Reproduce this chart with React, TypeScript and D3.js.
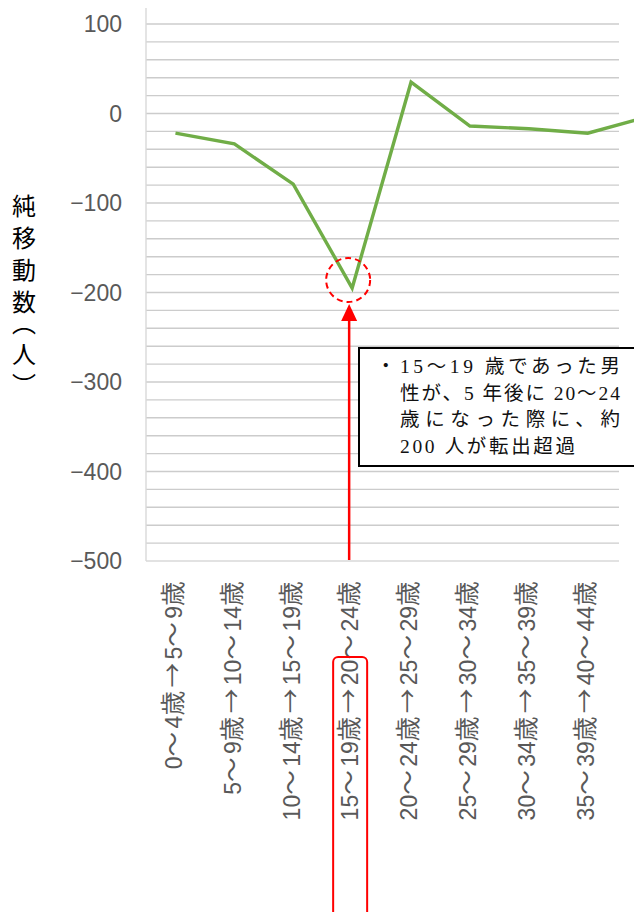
import React, { useEffect, useRef } from "react";
import * as d3 from "d3";

// 年齢階級の移動（5年後）
const categories = [
  "0～4歳→5～9歳",
  "5～9歳→10～14歳",
  "10～14歳→15～19歳",
  "15～19歳→20～24歳",
  "20～24歳→25～29歳",
  "25～29歳→30～34歳",
  "30～34歳→35～39歳",
  "35～39歳→40～44歳",
  "40～44歳→45～49歳",
];
// 純移動数（人）
const netMigration = [-22, -34, -79, -195, 35, -14, -17, -22, -4];
const yTicks = [100, 0, -100, -200, -300, -400, -500];
const yTitle = "純移動数（人）";
const noteLines = [
  "15～19 歳であった男",
  "性が、5 年後に 20～24",
  "歳になった際に、約",
  "200 人が転出超過",
];
const highlightIndex = 3;

const W = 634;
const H = 912;

const App: React.FC = () => {
  const svgRef = useRef<any>();

  useEffect(() => {
    const svg = d3.select(svgRef.current);
    svg.selectAll("*").remove();

    const left = 146;
    const gridRight = 619;
    const step = 58.9;

    const x = d3
      .scaleBand<string>()
      .domain(categories)
      .range([left, left + step * categories.length]);
    const y = d3.scaleLinear().domain([-500, 100]).range([561, 24]);
    const cx = (c: string) => (x(c) as number) + x.bandwidth() / 2;

    // gridlines every 20
    const minor = d3.range(-480, 101, 20);
    svg
      .append("g")
      .selectAll()
      .data(minor)
      .join("line")
      .attr("x1", left)
      .attr("x2", gridRight)
      .attr("y1", (d) => y(d))
      .attr("y2", (d) => y(d))
      .attr("stroke", "#cccccc")
      .attr("stroke-width", 1.4);

    // axes
    svg
      .append("line")
      .attr("x1", left)
      .attr("x2", gridRight)
      .attr("y1", y(-500))
      .attr("y2", y(-500))
      .attr("stroke", "#d9d9d9")
      .attr("stroke-width", 1.4);
    svg
      .append("line")
      .attr("x1", left)
      .attr("x2", left)
      .attr("y1", 8)
      .attr("y2", y(-500))
      .attr("stroke", "#d9d9d9")
      .attr("stroke-width", 1.4);

    // y tick labels
    svg
      .append("g")
      .attr("font-family", "'Liberation Sans', Arial, sans-serif")
      .attr("font-size", 23)
      .attr("fill", "#595959")
      .attr("text-anchor", "end")
      .selectAll()
      .data(yTicks)
      .join("text")
      .attr("x", 122)
      .attr("y", (d) => y(d))
      .attr("dy", "0.36em")
      .text((d) => (d < 0 ? "\u2212" + Math.abs(d) : String(d)));

    // y title (vertical)
    svg
      .append("text")
      .attr("x", 24)
      .attr("y", 194)
      .attr("font-family", "'Noto Sans CJK JP', sans-serif")
      .attr("font-size", 24)
      .attr("fill", "#000")
      .attr(
        "style",
        "writing-mode: vertical-rl; text-orientation: upright; letter-spacing: 8px; font-feature-settings: 'vpal' 1;",
      )
      .text(yTitle);

    // x labels: digits in a latin face, the rest in CJK with extra spacing
    const runs = (s: string) => s.split(/(\d+)/).filter((t) => t.length > 0);
    const labels = svg
      .append("g")
      .attr("fill", "#595959")
      .attr("text-anchor", "end")
      .selectAll()
      .data(categories.filter((c) => cx(c) + 12 < W))
      .join("text")
      .attr("font-size", 23)
      .attr("transform", (d) => `translate(${cx(d) - 2},578) rotate(-90)`)
      .attr("dy", "0.36em");
    labels
      .selectAll("tspan")
      .data((d) => runs(d))
      .join("tspan")
      .attr("font-family", (t) =>
        /\d/.test(t) ? "'Liberation Sans', Arial, sans-serif" : "'Noto Sans CJK JP', sans-serif",
      )
      .attr("font-size", (t) => (/\d/.test(t) ? 23 : 24.5))
      .attr("letter-spacing", (t) => (/\d/.test(t) ? 0 : 3.5))
      .text((t) => t);

    // line
    const line = d3
      .line<number>()
      .x((_, i) => cx(categories[i]))
      .y((d) => y(d));
    svg
      .append("path")
      .datum(netMigration)
      .attr("d", line)
      .attr("fill", "none")
      .attr("stroke", "#70ad47")
      .attr("stroke-width", 3.4)
      .attr("stroke-linejoin", "miter");

    // highlight annotations
    const hx = cx(categories[highlightIndex]);
    const hy = y(netMigration[highlightIndex]);
    svg
      .append("circle")
      .attr("cx", hx - 4)
      .attr("cy", hy - 8)
      .attr("r", 22)
      .attr("fill", "none")
      .attr("stroke", "#ff0000")
      .attr("stroke-width", 2)
      .attr("stroke-dasharray", "6 4");

    svg
      .append("line")
      .attr("x1", hx - 3)
      .attr("x2", hx - 3)
      .attr("y1", 560)
      .attr("y2", hy + 28)
      .attr("stroke", "#ff0000")
      .attr("stroke-width", 2.5);
    svg
      .append("path")
      .attr(
        "d",
        `M${hx - 3},${hy + 16} L${hx - 11},${hy + 33} L${hx + 5},${hy + 33} Z`,
      )
      .attr("fill", "#ff0000");

    svg
      .append("rect")
      .attr("x", hx - 19)
      .attr("y", 657)
      .attr("width", 34)
      .attr("height", 300)
      .attr("rx", 5)
      .attr("fill", "none")
      .attr("stroke", "#ff0000")
      .attr("stroke-width", 2);

    // note box
    const note = svg.append("g");
    note
      .append("rect")
      .attr("x", 359)
      .attr("y", 348)
      .attr("width", 300)
      .attr("height", 118)
      .attr("fill", "#fff")
      .attr("stroke", "#000")
      .attr("stroke-width", 2);
    const noteText = note
      .append("g")
      .attr("font-family", "'Liberation Serif', 'Noto Sans CJK JP', serif")
      .attr("font-size", 19.5)
      .attr("fill", "#111");
    noteText.append("text").attr("x", 376).attr("y", 373).text("・");
    noteText
      .selectAll("text.l")
      .data(noteLines)
      .join("text")
      .attr("class", "l")
      .attr("x", 400)
      .attr("y", (_, i) => 373 + i * 26.5)
      .attr("textLength", (_, i) => (i < 3 ? 220 : 175))
      .attr("lengthAdjust", "spacing")
      .text((d) => d);
  }, []);

  return (
    <svg
      ref={svgRef}
      width={W}
      height={H}
      style={{ position: "absolute", left: 0, top: 0, background: "#fff" }}
    ></svg>
  );
};

export default App;
